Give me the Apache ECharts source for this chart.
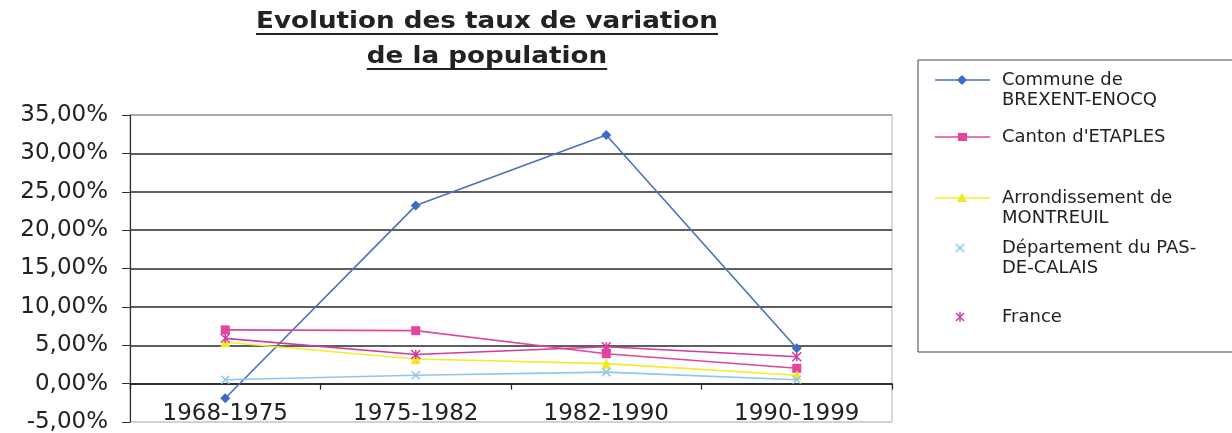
<!DOCTYPE html>
<html>
<head>
<meta charset="utf-8">
<script src="https://cdn.jsdelivr.net/npm/echarts@6/dist/echarts.min.js"></script>
<style>html,body{margin:0;padding:0;background:#fff}#c{width:1232px;height:433px}</style>
</head>
<body>
<div id="c"></div>
<script>
const categories = ['1968-1975', '1975-1982', '1982-1990', '1990-1999'];
const seriesNames = ['Commune de\nBREXENT-ENOCQ', "Canton d'ETAPLES", 'Arrondissement de\nMONTREUIL', 'Département du PAS-\nDE-CALAIS', 'France'];
const commune = [-1.9, 23.2, 32.4, 4.6];
const canton = [7.0, 6.9, 3.9, 2.0];
const arrondissement = [5.4, 3.2, 2.6, 1.1];
const departement = [0.5, 1.1, 1.5, 0.5];
const france = [5.9, 3.8, 4.8, 3.5];
const titleLines = ['Evolution des taux de variation', 'de la population'];

const FONT = '"DejaVu Sans", sans-serif';
const colors = ['#3a6cc6', '#e6449c', '#f2e81e', '#8ec6ec', '#d23a9e'];
const lineColors = ['#4a72b8', '#e0489a', '#f4ec2a', '#8ec6ec', '#d23a9e'];
const xPath = 'path://M0,0L10,10M10,0L0,10';
const starPath = 'path://M0,0L10,10M10,0L0,10M5,0L5,10';
const symbols = ['diamond', 'rect', 'triangle', xPath, starPath];
const symbolSizes = [10, 9, 10, 8, 9];
const values = [commune, canton, arrondissement, departement, france];

const chart = echarts.init(document.getElementById('c'), null, {renderer: 'canvas'});

function measure(text, font) {
  const cv = document.createElement('canvas').getContext('2d');
  cv.font = font;
  return cv.measureText(text).width;
}

// title graphics
const titleFont = 'bold 23px ' + FONT;
const tCx = 487;
const w1 = measure(titleLines[0], titleFont);
const sX = 462 / w1;
const w2 = measure(titleLines[1], titleFont) * sX;
const graphics = [
  {type: 'text', x: tCx, y: 22, scaleX: sX, style: {text: titleLines[0], font: titleFont, fill: '#222', align: 'center', verticalAlign: 'middle'}},
  {type: 'line', shape: {x1: tCx - 462 / 2, y1: 34, x2: tCx + 462 / 2, y2: 34}, style: {stroke: '#222', lineWidth: 2}},
  {type: 'text', x: tCx, y: 57, scaleX: sX, style: {text: titleLines[1], font: titleFont, fill: '#222', align: 'center', verticalAlign: 'middle'}},
  {type: 'line', shape: {x1: tCx - w2 / 2, y1: 69, x2: tCx + w2 / 2, y2: 69}, style: {stroke: '#222', lineWidth: 2}}
];

// legend graphics
graphics.push({type: 'rect', shape: {x: 918, y: 60, width: 330, height: 292}, style: {fill: '#fff', stroke: '#444', lineWidth: 1}, z: 1});
const legendY = [80, 137, 198, 248, 317];
const hasLine = [true, true, true, false, false];
const legFont = '18px ' + FONT;
seriesNames.forEach((name, i) => {
  const y = legendY[i];
  if (hasLine[i]) {
    graphics.push({type: 'line', shape: {x1: 935, y1: y, x2: 990, y2: y}, style: {stroke: lineColors[i], lineWidth: 1.5}, z: 2});
  }
  const sym = symbols[i];
  if (sym === 'diamond') {
    graphics.push({type: 'polygon', z: 3, shape: {points: [[962, y - 5], [967, y], [962, y + 5], [957, y]]}, style: {fill: colors[i]}});
  } else if (sym === 'rect') {
    graphics.push({type: 'rect', z: 3, shape: {x: 958, y: y - 4, width: 9, height: 8}, style: {fill: colors[i]}});
  } else if (sym === 'triangle') {
    graphics.push({type: 'polygon', z: 3, shape: {points: [[962, y - 5], [967, y + 4], [957, y + 4]]}, style: {fill: colors[i]}});
  } else {
    const st = {stroke: colors[i], lineWidth: 1.4};
    graphics.push({type: 'line', z: 3, shape: {x1: 956, y1: y - 4, x2: 964, y2: y + 4}, style: st});
    graphics.push({type: 'line', z: 3, shape: {x1: 964, y1: y - 4, x2: 956, y2: y + 4}, style: st});
    if (sym === starPath) {
      graphics.push({type: 'line', z: 3, shape: {x1: 960, y1: y - 5, x2: 960, y2: y + 5}, style: st});
    }
  }
  graphics.push({type: 'text', x: 1002, y: y - 10, style: {text: name, font: legFont, fill: '#222', lineHeight: 20, align: 'left', verticalAlign: 'top'}, z: 3});
});

const splitColors = ['#cfcfcf', '#2a2a2a', '#2a2a2a', '#2a2a2a', '#2a2a2a', '#2a2a2a', '#2a2a2a', '#2a2a2a', '#9a9a9a'];

const option = {
  backgroundColor: '#fff',
  animation: false,
  grid: {left: 130, right: 340, top: 115, bottom: 11, show: true, borderColor: '#b5b5b5', borderWidth: 1,
    backgroundColor: 'transparent', containLabel: false, outerBoundsMode: 'none'},
  xAxis: {
    type: 'category',
    data: categories,
    boundaryGap: true,
    axisLine: {onZero: true, lineStyle: {color: '#222', width: 1.5}},
    axisTick: {show: true, length: 6, lineStyle: {color: '#222', width: 1.2}},
    axisLabel: {fontFamily: FONT, fontSize: 23, color: '#222', margin: -19},
    splitLine: {show: false}
  },
  yAxis: {
    type: 'value',
    min: -5, max: 35, interval: 5,
    axisLine: {show: true, lineStyle: {color: '#333', width: 1.2}},
    axisTick: {show: true, length: 8, lineStyle: {color: '#333'}},
    axisLabel: {fontFamily: FONT, fontSize: 23, color: '#222', margin: 22,
      formatter: v => v.toFixed(2).replace('.', ',') + '%'},
    splitLine: {show: true, lineStyle: {color: splitColors, width: 1.5}}
  },
  series: values.map((data, i) => ({
    name: seriesNames[i],
    type: 'line',
    data: data,
    symbol: symbols[i],
    symbolSize: symbolSizes[i],
    showSymbol: true,
    lineStyle: {color: lineColors[i], width: 1.6},
    itemStyle: (i >= 3) ? {color: 'rgba(0,0,0,0)', borderColor: colors[i], borderWidth: 1.5} : {color: colors[i], borderWidth: 0},
    z: 3 + i
  })),
  graphic: graphics
};
chart.setOption(option);
</script>
</body>
</html>
